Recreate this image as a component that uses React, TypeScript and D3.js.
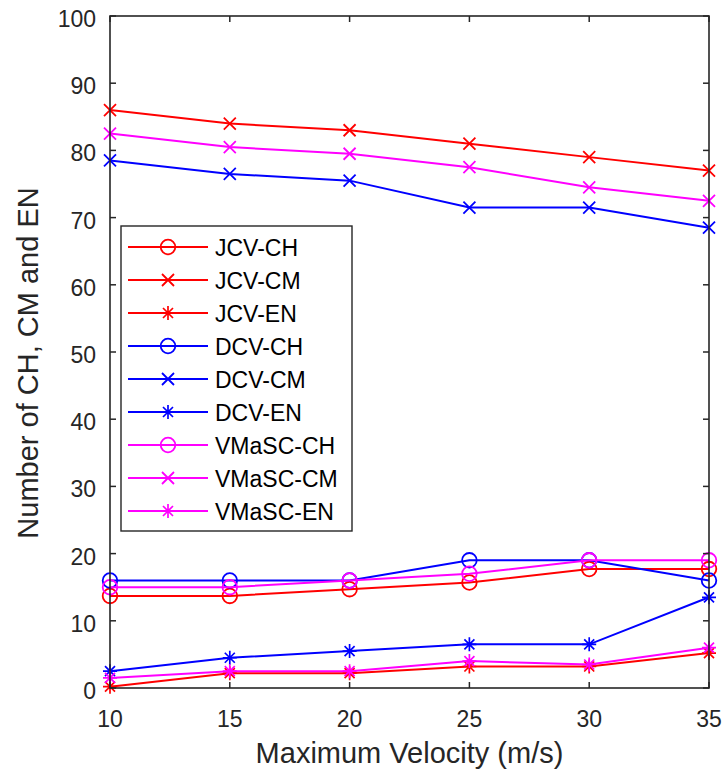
import React from "react";
import * as d3 from "d3";

const velocities = [10, 15, 20, 25, 30, 35];
const xTicks = [10, 15, 20, 25, 30, 35];
const yTicks = [0, 10, 20, 30, 40, 50, 60, 70, 80, 90, 100];

const jcvCH = [13.7, 13.7, 14.7, 15.7, 17.7, 17.7];
const jcvCM = [86, 84, 83, 81, 79, 77];
const jcvEN = [0.2, 2.2, 2.2, 3.2, 3.2, 5.2];
const dcvCH = [16, 16, 16, 19, 19, 16];
const dcvCM = [78.5, 76.5, 75.5, 71.5, 71.5, 68.5];
const dcvEN = [2.5, 4.5, 5.5, 6.5, 6.5, 13.5];
const vmascCH = [15, 15, 16, 17, 19, 19];
const vmascCM = [82.5, 80.5, 79.5, 77.5, 74.5, 72.5];
const vmascEN = [1.5, 2.5, 2.5, 4, 3.5, 6];

const seriesNames = ["JCV-CH", "JCV-CM", "JCV-EN", "DCV-CH", "DCV-CM", "DCV-EN", "VMaSC-CH", "VMaSC-CM", "VMaSC-EN"];
const seriesValues = [jcvCH, jcvCM, jcvEN, dcvCH, dcvCM, dcvEN, vmascCH, vmascCM, vmascEN];
const seriesColors = ["#FF0000", "#FF0000", "#FF0000", "#0000FF", "#0000FF", "#0000FF", "#FF00FF", "#FF00FF", "#FF00FF"];
const seriesMarkers = ["o", "x", "*", "o", "x", "*", "o", "x", "*"];

const W = 726, H = 776;
const left = 110, right = 709, top = 16, bottom = 688;
const FONT = "'Liberation Sans', Arial, Helvetica, sans-serif";
const AX = "#262626";

function Marker({ type, x, y, color }: { type: string; x: number; y: number; color: string }) {
  const s = 6;
  if (type === "o") return <circle cx={x} cy={y} r={7.3} fill="none" stroke={color} strokeWidth={1.8} />;
  if (type === "x")
    return (
      <path d={`M${x - s},${y - s}L${x + s},${y + s}M${x - s},${y + s}L${x + s},${y - s}`} stroke={color} strokeWidth={1.8} />
    );
  const a = 7, d = 5;
  return (
    <path
      d={`M${x},${y - a}L${x},${y + a}M${x - a},${y}L${x + a},${y}M${x - d},${y - d}L${x + d},${y + d}M${x - d},${y + d}L${x + d},${y - d}`}
      stroke={color}
      strokeWidth={1.7}
    />
  );
}

export default function App() {
  const x = d3.scaleLinear().domain([10, 35]).range([left, right]);
  const y = d3.scaleLinear().domain([0, 100]).range([bottom, top]);
  const line = d3
    .line<number>()
    .x((_, i) => x(velocities[i]))
    .y((d) => y(d));

  const legX = 121, legY = 226, legW = 231, legH = 305;
  const rowH = 33;

  return (
    <svg width={W} height={H} style={{ position: "absolute", left: 0, top: 0, background: "#fff" }} fontFamily={FONT}>
      <rect x={0} y={0} width={W} height={H} fill="#fff" />
      {seriesValues.map((vals, si) => (
        <g key={si}>
          <path d={line(vals) || ""} fill="none" stroke={seriesColors[si]} strokeWidth={2} />
          {vals.map((v, i) => (
            <Marker key={i} type={seriesMarkers[si]} x={x(velocities[i])} y={y(v)} color={seriesColors[si]} />
          ))}
        </g>
      ))}
      <rect x={left} y={top} width={right - left} height={bottom - top} fill="none" stroke={AX} strokeWidth={1.6} />
      {xTicks.map((t) => (
        <g key={"x" + t}>
          <line x1={x(t)} x2={x(t)} y1={bottom} y2={bottom - 6} stroke={AX} strokeWidth={1.5} />
          <line x1={x(t)} x2={x(t)} y1={top} y2={top + 6} stroke={AX} strokeWidth={1.5} />
          <text x={x(t)} y={bottom + 39} textAnchor="middle" fontSize={23} fill={AX}>
            {t}
          </text>
        </g>
      ))}
      {yTicks.map((t) => (
        <g key={"y" + t}>
          <line x1={left} x2={left + 6} y1={y(t)} y2={y(t)} stroke={AX} strokeWidth={1.5} />
          <line x1={right} x2={right - 6} y1={y(t)} y2={y(t)} stroke={AX} strokeWidth={1.5} />
          <text x={left - 14} y={y(t) + 11} textAnchor="end" fontSize={23} fill={AX}>
            {t}
          </text>
        </g>
      ))}
      <text x={(left + right) / 2} y={763} textAnchor="middle" fontSize={29} fill={AX}>
        Maximum Velocity (m/s)
      </text>
      <text transform={`translate(38,363) rotate(-90)`} textAnchor="middle" fontSize={29} fill={AX}>
        Number of CH, CM and EN
      </text>
      <rect x={legX} y={legY} width={legW} height={legH} fill="#fff" stroke={AX} strokeWidth={1.4} />
      {seriesNames.map((name, i) => {
        const cy = legY + 21 + i * rowH;
        return (
          <g key={name}>
            <line x1={legX + 7} x2={legX + 87} y1={cy} y2={cy} stroke={seriesColors[i]} strokeWidth={2} />
            <Marker type={seriesMarkers[i]} x={legX + 47} y={cy} color={seriesColors[i]} />
            <text x={legX + 94} y={cy + 8.5} fontSize={23} fill="#000">
              {name}
            </text>
          </g>
        );
      })}
    </svg>
  );
}
